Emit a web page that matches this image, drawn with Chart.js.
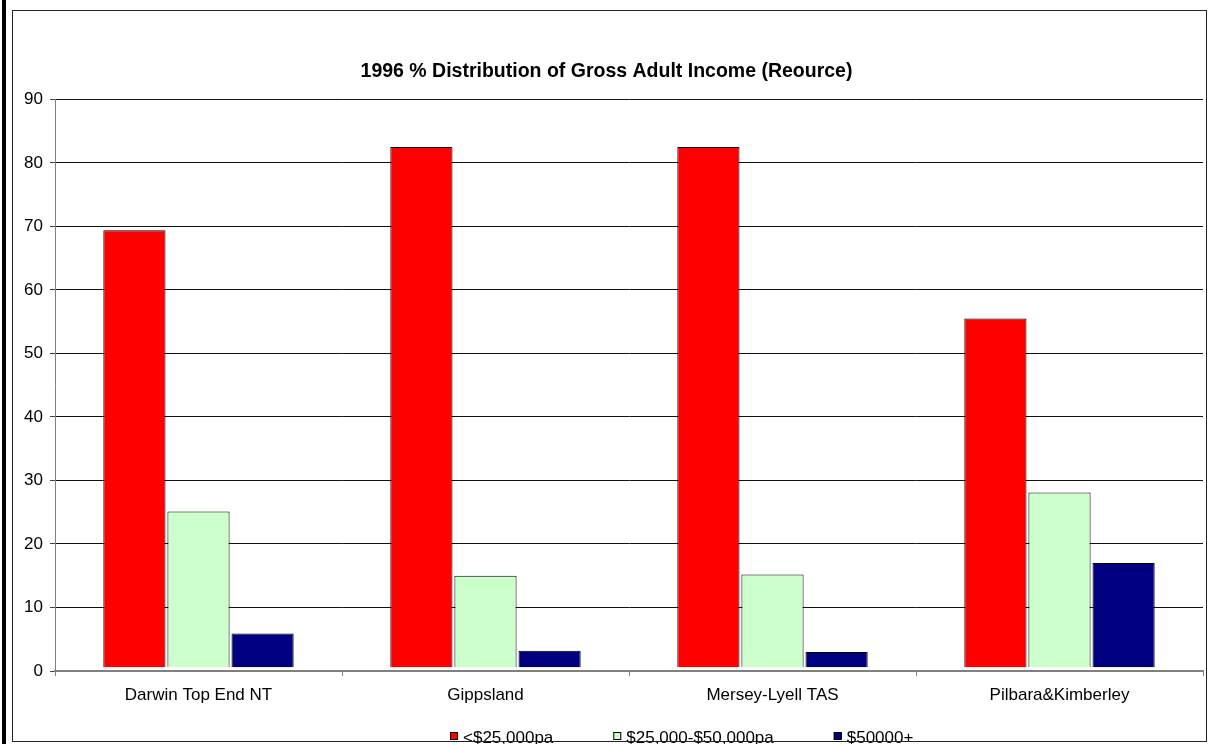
<!DOCTYPE html>
<html>
<head>
<meta charset="utf-8">
<title>1996 % Distribution of Gross Adult Income</title>
<script src="https://cdn.jsdelivr.net/npm/chart.js@4.4.1/dist/chart.umd.min.js"></script>
<style>
  html, body { margin: 0; padding: 0; background: #fff; }
  #wrap { position: relative; width: 1215px; height: 744px; overflow: hidden; }
  #chart { position: absolute; left: 0; top: 0; }
  /* sheet edge on the left and the chart frame */
  #edge { position: absolute; left: 2px; top: 0; width: 4px; height: 744px; background: #000; }
  #frame {
    position: absolute; left: 12px; top: 10px; width: 1195px; height: 732px;
    box-sizing: border-box; border: 1.5px solid #222; pointer-events: none;
  }
</style>
</head>
<body>
<div id="wrap">
  <canvas id="chart" width="1215" height="744"></canvas>
  <div id="edge"></div>
  <div id="frame"></div>
</div>
<script>
// Regions and income bands
const regions = ['Darwin Top End NT', 'Gippsland', 'Mersey-Lyell TAS', 'Pilbara&Kimberley'];
const bandLabels = ['<$25,000pa', '$25,000-$50,000pa', '$50000+'];

// Percent of adults in each band
const under25k = [69.4, 82.5, 82.5, 55.5];
const from25kTo50k = [25.1, 15.0, 15.2, 28.1];
const over50k = [5.9, 3.2, 3.0, 17.0];

const bandColors = ['#FF0000', '#CCFFCC', '#000080'];

const FONT = '"Liberation Sans", Arial, sans-serif';
Chart.defaults.font.family = FONT;
Chart.defaults.color = '#000';

// Legend drawn as a single row under the axis labels
const LEGEND_CENTER_X = 682;
const LEGEND_Y = 736;
const LEGEND_GAP = 60;

const rowLegend = {
  id: 'rowLegend',
  afterDraw(chart) {
    const ctx = chart.ctx;
    ctx.save();
    ctx.font = '17px ' + FONT;
    ctx.textBaseline = 'middle';
    const items = chart.data.datasets.map(ds => ({
      ds,
      w: 8 + 5 + ctx.measureText(ds.label).width
    }));
    const total = items.reduce((s, it) => s + it.w, 0) + LEGEND_GAP * (items.length - 1);
    let x = Math.round(LEGEND_CENTER_X - total / 2);
    items.forEach(({ ds, w }) => {
      ctx.fillStyle = ds.backgroundColor;
      ctx.fillRect(x, LEGEND_Y - 4, 8, 8);
      ctx.strokeStyle = '#000';
      ctx.lineWidth = 1;
      ctx.strokeRect(x + 0.5, LEGEND_Y - 3.5, 7, 7);
      ctx.fillStyle = '#000';
      ctx.fillText(ds.label, x + 13, LEGEND_Y + 2);
      x += w + LEGEND_GAP;
    });
    ctx.restore();
  }
};

const makeSet = (label, data, color) => ({
  label,
  data,
  backgroundColor: color,
  borderColor: '#000',
  borderWidth: 1,
  base: 0.6,
  categoryPercentage: 0.67,
  barPercentage: 0.97
});

new Chart(document.getElementById('chart'), {
  type: 'bar',
  data: {
    labels: regions,
    datasets: [
      makeSet(bandLabels[0], under25k, bandColors[0]),
      makeSet(bandLabels[1], from25kTo50k, bandColors[1]),
      makeSet(bandLabels[2], over50k, bandColors[2])
    ]
  },
  options: {
    responsive: false,
    animation: false,
    devicePixelRatio: 1,
    layout: { padding: { left: 10, right: 12, top: 0, bottom: 33 } },
    plugins: {
      legend: { display: false },
      tooltip: { enabled: false },
      title: {
        display: true,
        text: '1996 % Distribution of Gross Adult Income (Reource)',
        font: { size: 19.5, weight: 'bold', family: FONT },
        color: '#000',
        padding: { top: 60, bottom: 16 }
      }
    },
    scales: {
      x: {
        grid: {
          offset: true,
          drawOnChartArea: false,
          drawTicks: true,
          tickLength: 5,
          color: '#808080'
        },
        border: { color: '#808080', width: 2 },
        ticks: { font: { size: 17 }, padding: 9, maxRotation: 0 },
        afterFit: (scale) => { scale.height = 40; }
      },
      y: {
        min: 0,
        max: 90,
        ticks: { stepSize: 10, font: { size: 17 }, padding: 7 },
        grid: {
          color: (c) => (c.tick && c.tick.value === 0 ? 'rgba(0,0,0,0)' : '#111'),
          tickColor: '#444',
          tickLength: 5,
          lineWidth: 1
        },
        border: { color: '#808080', width: 1 },
        afterFit: (scale) => { scale.width = 45; }
      }
    }
  },
  plugins: [rowLegend]
});
</script>
</body>
</html>
